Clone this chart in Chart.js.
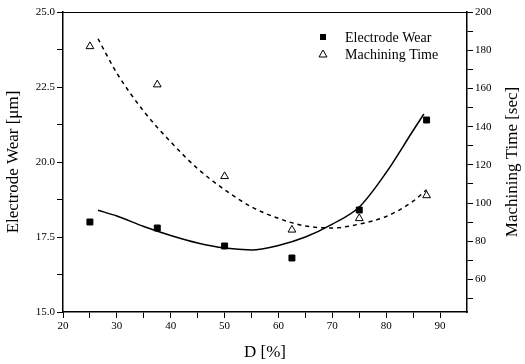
<!DOCTYPE html>
<html>
<head>
<meta charset="utf-8">
<script src="https://cdn.jsdelivr.net/npm/chart.js@4.4.1/dist/chart.umd.min.js"></script>
<style>
body { margin: 0; background: #fff; }
</style>
</head>
<body>
<canvas id="chart" width="525" height="364"></canvas>
<script>
// measured points
const dValues = [25, 37.5, 50, 62.5, 75, 87.5];
const electrodeWear = [18.0, 17.8, 17.2, 16.8, 18.4, 21.4];
const machiningTime = [182, 162, 114, 86, 92, 104];

// fitted curves
const wearFitD = [26.5, 30, 35, 40, 45, 50, 55, 60, 65, 70, 75, 80, 85, 87];
const wearFit = [18.39, 18.2, 17.85, 17.55, 17.3, 17.13, 17.07, 17.22, 17.5, 17.93, 18.5, 19.65, 21.05, 21.6];
const timeFitD = [26.5, 30, 35, 40, 45, 50, 55, 60, 65, 70, 75, 80, 85, 87.5];
const timeFit = [186, 168, 148, 132, 118, 107, 98, 92, 88, 87, 89, 93, 101, 107];

// tick values (minor + major)
const xTicks = [20, 25, 30, 35, 40, 45, 50, 55, 60, 65, 70, 75, 80, 85, 90];
const wearTicks = [15, 16.25, 17.5, 18.75, 20, 21.25, 22.5, 23.75, 25];
const timeTicks = [50, 60, 70, 80, 90, 100, 110, 120, 130, 140, 150, 160, 170, 180, 190, 200];

const serif = "'Liberation Serif', 'Times New Roman', serif";
const pts = (xs, ys) => xs.map((x, i) => ({x: x, y: ys[i]}));

const setTicks = vals => axis => { axis.ticks = vals.map(v => ({value: v})); };

const extras = {
	id: 'extras',
	afterDraw(chart) {
		const ctx = chart.ctx;
		const area = chart.chartArea;
		ctx.save();
		// legend
		ctx.fillStyle = '#000';
		ctx.strokeStyle = '#000';
		ctx.lineWidth = 1;
		ctx.fillRect(320, 34, 6, 6);
		ctx.beginPath();
		ctx.moveTo(323, 50);
		ctx.lineTo(327, 57);
		ctx.lineTo(319, 57);
		ctx.closePath();
		ctx.stroke();
		ctx.font = '14px ' + serif;
		ctx.textBaseline = 'middle';
		ctx.textAlign = 'left';
		ctx.fillText('Electrode Wear', 345, 38);
		ctx.fillText('Machining Time', 345, 55);
		// right axis title, reading bottom to top
		ctx.translate(513, (area.top + area.bottom) / 2);
		ctx.rotate(-Math.PI / 2);
		ctx.textAlign = 'center';
		ctx.font = '17px ' + serif;
		ctx.fillText('Machining Time [sec]', 0, 0);
		ctx.restore();
	}
};

const axisBase = {
	grid: {drawOnChartArea: false, color: '#000', tickLength: 6, tickWidth: 1},
	border: {color: '#000', width: 1.5}
};

new Chart(document.getElementById('chart'), {
	type: 'scatter',
	data: {
		datasets: [{
			label: 'Electrode Wear',
			data: pts(dValues, electrodeWear),
			yAxisID: 'y',
			pointStyle: 'rect',
			radius: 4.2,
			backgroundColor: '#000',
			borderColor: '#000'
		}, {
			label: 'Machining Time',
			data: pts(dValues, machiningTime),
			yAxisID: 'y1',
			pointStyle: 'triangle',
			radius: 4.5,
			backgroundColor: '#fff',
			borderColor: '#000',
			borderWidth: 1
		}, {
			label: 'wear fit',
			type: 'line',
			data: pts(wearFitD, wearFit),
			yAxisID: 'y',
			showLine: true,
			pointRadius: 0,
			borderColor: '#000',
			borderWidth: 1.5,
			cubicInterpolationMode: 'monotone',
			fill: false
		}, {
			label: 'time fit',
			type: 'line',
			data: pts(timeFitD, timeFit),
			yAxisID: 'y1',
			showLine: true,
			pointRadius: 0,
			borderColor: '#000',
			borderWidth: 1.5,
			borderDash: [4, 4],
			cubicInterpolationMode: 'monotone',
			fill: false
		}]
	},
	options: {
		responsive: false,
		animation: false,
		devicePixelRatio: 1,
		layout: {padding: 0},
		plugins: {legend: {display: false}, tooltip: {enabled: false}},
		scales: {
			x: {
				...axisBase,
				type: 'linear',
				position: 'bottom',
				min: 20,
				max: 95,
				afterBuildTicks: setTicks(xTicks),
				afterFit: s => { s.height = 52; },
				ticks: {
					color: '#000', font: {family: serif, size: 11}, padding: 2,
					maxRotation: 0, autoSkip: false,
					callback: v => v % 10 === 0 ? String(v) : ''
				},
				title: {display: true, text: 'D [%]', color: '#000', font: {family: serif, size: 17}, padding: {top: 2, bottom: 1}}
			},
			x2: {
				type: 'linear',
				position: 'top',
				min: 20,
				max: 95,
				grid: {drawOnChartArea: false, drawTicks: false},
				border: {color: '#000', width: 1},
				ticks: {display: false},
				afterFit: s => { s.height = 12; }
			},
			y: {
				...axisBase,
				position: 'left',
				min: 15,
				max: 25,
				afterBuildTicks: setTicks(wearTicks),
				afterFit: s => { s.width = 63; },
				ticks: {
					color: '#000', font: {family: serif, size: 11}, padding: 2, autoSkip: false,
					callback: v => v % 2.5 === 0 ? v.toFixed(1) : ''
				},
				title: {display: true, text: 'Electrode Wear [μm]', color: '#000', font: {family: serif, size: 17}, padding: {top: 3, bottom: 0}}
			},
			y1: {
				...axisBase,
				position: 'right',
				min: 43,
				max: 200,
				afterBuildTicks: setTicks(timeTicks),
				afterFit: s => { s.width = 58; },
				ticks: {
					color: '#000', font: {family: serif, size: 11}, padding: 2, autoSkip: false,
					callback: v => v % 20 === 0 ? String(v) : ''
				}
			}
		}
	},
	plugins: [extras]
});
</script>
</body>
</html>
